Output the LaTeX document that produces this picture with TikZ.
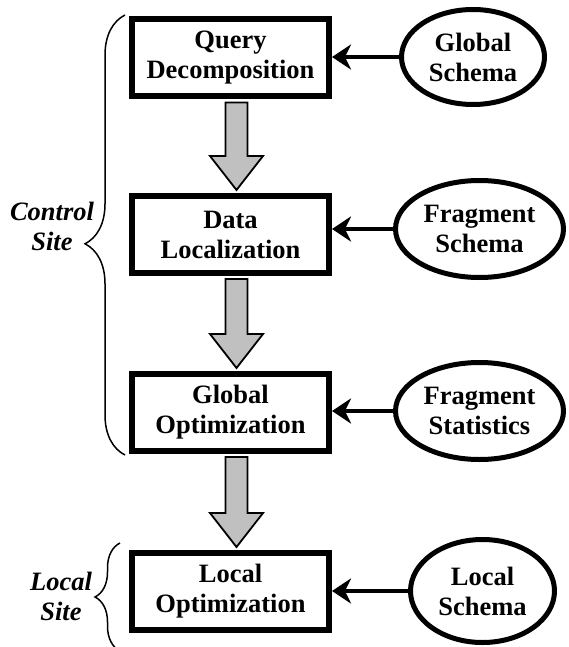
\documentclass[tikz,border=0pt]{standalone}
\usepackage{fontspec}
\setmainfont{Liberation Serif}
\usetikzlibrary{arrows.meta,decorations.pathreplacing,calc,shapes.geometric}
\definecolor{flowgray}{HTML}{C0C0C0}
\begin{document}
\begin{tikzpicture}[x=1pt,y=-1pt,
  procbox/.style={draw,line width=6pt,minimum width=197pt,minimum height=77pt,inner sep=0pt,align=center,font=\fontsize{26.5}{30}\selectfont\bfseries},
  srcnode/.style={ellipse,draw,line width=5pt,inner sep=0pt,align=center,font=\fontsize{26.5}{30}\selectfont\bfseries},
  feed/.style={line width=4pt,-{Stealth[length=19pt,width=25pt,inset=6pt]}},
  flow/.style={draw=black,line width=1.8pt,fill=flowgray,line join=miter},
  sidelabel/.style={align=center,font=\fontsize{26.5}{30}\selectfont\bfseries\itshape},
  sidebrace/.style={decorate,decoration={brace,amplitude=#1},line width=1.5pt}
]
\useasboundingbox (0,0) rectangle (568,647);

\node[procbox] (qd) at (230.5,58) {Query\\Decomposition};
\node[procbox] (dl) at (230.5,234.5) {Data\\Localization};
\node[procbox] (go) at (230.5,412.5) {Global\\Optimization};
\node[procbox] (lo) at (230.5,591.5) {Local\\Optimization};

\node[srcnode,minimum width=143pt,minimum height=95pt] (gs) at (473,57) {Global\\Schema};
\node[srcnode,minimum width=168pt,minimum height=97pt] (fs) at (479.5,229) {Fragment\\Schema};
\node[srcnode,minimum width=168pt,minimum height=97pt] (fst) at (479.5,411) {Fragment\\Statistics};
\node[srcnode,minimum width=144pt,minimum height=103pt] (ls) at (482.5,591) {Local\\Schema};

\draw[feed] (gs.west) -- (gs.west -| qd.east);
\draw[feed] (fs.west) -- (fs.west -| dl.east);
\draw[feed] (fst.west) -- (fst.west -| go.east);
\draw[feed] (ls.west) -- (ls.west -| lo.east);

\foreach \a/\b in {qd/dl, dl/go, go/lo} {
  \draw[flow] ($(\a.south)+(-5,3)$) -- ($(\a.south)+(17,3)$)
    -- ($(\b.north)+(17,-37)$) -- ($(\b.north)+(32.5,-37)$)
    -- ($(\b.north)+(6,-3)$) -- ($(\b.north)+(-20.5,-37)$)
    -- ($(\b.north)+(-5,-37)$) -- cycle;
}

\coordinate (cbtop) at (125,15);
\coordinate (cbbot) at (125,455);
\draw[sidebrace=40pt,decoration={aspect=0.48}] (cbbot) -- (cbtop);
\node[sidelabel] (cs) at (52,226) {Control\\Site};

\coordinate (lbtop) at (120,543);
\coordinate (lbbot) at (120,651);
\draw[sidebrace=25pt] (lbbot) -- (lbtop);
\node[sidelabel] (lsl) at (61,596) {Local\\Site};
\end{tikzpicture}
\end{document}
